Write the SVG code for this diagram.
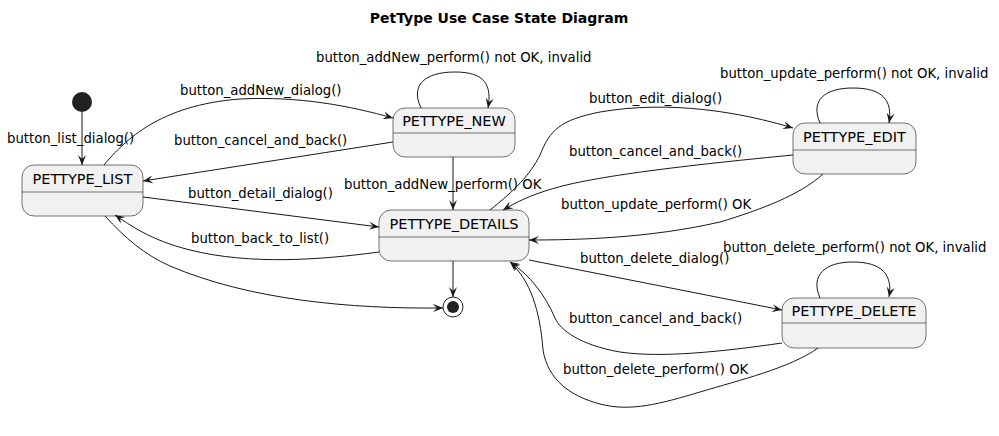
<svg xmlns="http://www.w3.org/2000/svg" width="999" height="436" viewBox="0 0 999 436">
<style>
.node rect{fill:#F1F1F1;stroke:#181818;stroke-width:0.6}
.node line{stroke:#181818;stroke-width:0.6}
.name{font-family:"DejaVu Sans",sans-serif;font-size:14.5px;fill:#000;text-anchor:middle}
.lbl{font-family:"DejaVu Sans",sans-serif;font-size:13.25px;fill:#000}
.title{font-family:"DejaVu Sans",sans-serif;font-size:14px;font-weight:bold;fill:#000;text-anchor:middle}
#edges path{fill:none;stroke:#181818;stroke-width:1;marker-end:url(#arr)}
</style>
<defs>
<marker id="arr" viewBox="0 0 10 8" refX="10" refY="4" markerWidth="10" markerHeight="8" markerUnits="userSpaceOnUse" orient="auto">
<path d="M0,0 L10,4 L0,8 L4,4 Z" fill="#181818"/>
</marker>
</defs>
<rect width="999" height="436" fill="#fff"/>
<text class="title" x="499" y="23">PetType Use Case State Diagram</text>

<g id="start"><circle cx="82" cy="102" r="10" fill="#222"/></g>
<g id="end"><circle cx="453" cy="307" r="10" fill="#fff" stroke="#222" stroke-width="1"/><circle cx="453" cy="307" r="6" fill="#222"/></g>

<g id="PETTYPE_LIST" class="node"><rect x="22" y="165" width="121" height="51" rx="12"/><line x1="22" y1="192" x2="143" y2="192"/><text class="name" x="82.5" y="184">PETTYPE_LIST</text></g>
<g id="PETTYPE_NEW" class="node"><rect x="393" y="108" width="122" height="49" rx="12"/><line x1="393" y1="133" x2="515" y2="133"/><text class="name" x="454" y="126">PETTYPE_NEW</text></g>
<g id="PETTYPE_DETAILS" class="node"><rect x="379" y="210" width="150" height="51" rx="12"/><line x1="379" y1="237" x2="529" y2="237"/><text class="name" x="454" y="229">PETTYPE_DETAILS</text></g>
<g id="PETTYPE_EDIT" class="node"><rect x="793" y="123" width="123" height="51" rx="12"/><line x1="793" y1="150" x2="916" y2="150"/><text class="name" x="854.5" y="142">PETTYPE_EDIT</text></g>
<g id="PETTYPE_DELETE" class="node"><rect x="782" y="298" width="144" height="50" rx="12"/><line x1="782" y1="323" x2="926" y2="323"/><text class="name" x="854" y="316">PETTYPE_DELETE</text></g>

<g id="edges">
<path d="M82,112 L82,165"/>
<path d="M104,165 C125,140 160,105 240,99 C300,96 350,106 393,118"/>
<path d="M393,142 L143,181"/>
<path d="M143,197 L379,227"/>
<path d="M379,252 C320,260 250,265 190,250 C150,240 130,225 115,215"/>
<path d="M105,216 C125,238 145,255 170,266 C250,300 350,309 443,308"/>
<path d="M453,157 L453,210"/>
<path d="M421,108 C410,85 425,72 455,72 C485,72 492,85 488,108"/>
<path d="M490,210 C515,190 530,175 540,155 C550,130 560,120 600,112 C670,100 740,112 793,128"/>
<path d="M793,155 C700,164 600,175 555,188 C530,195 515,203 503,210"/>
<path d="M823,174 C800,195 760,210 720,222 C650,238 580,240 529,240"/>
<path d="M820,123 C810,100 825,88 853,88 C882,88 893,100 889,123"/>
<path d="M529,260 L782,310"/>
<path d="M782,343 C720,352 660,358 620,352 C580,345 560,330 555,318 C545,295 530,275 510,262"/>
<path d="M818,348 C790,368 740,380 700,392 C660,404 630,412 600,404 C570,396 548,380 543,350 C540,310 530,280 510,262"/>
<path d="M820,298 C810,275 825,262 853,262 C882,262 893,275 889,297"/>
<path d="M453,261 L453,297"/>
</g>

<g id="labels">
<text class="lbl" x="7" y="143">button_list_dialog()</text>
<text class="lbl" x="180" y="95">button_addNew_dialog()</text>
<text class="lbl" x="174" y="145">button_cancel_and_back()</text>
<text class="lbl" x="188" y="198">button_detail_dialog()</text>
<text class="lbl" x="191" y="243">button_back_to_list()</text>
<text class="lbl" x="344" y="189">button_addNew_perform() OK</text>
<text class="lbl" x="316" y="62">button_addNew_perform() not OK, invalid</text>
<text class="lbl" x="589" y="103">button_edit_dialog()</text>
<text class="lbl" x="569" y="156">button_cancel_and_back()</text>
<text class="lbl" x="561" y="209">button_update_perform() OK</text>
<text class="lbl" x="720" y="78">button_update_perform() not OK, invalid</text>
<text class="lbl" x="580" y="263">button_delete_dialog()</text>
<text class="lbl" x="723" y="252">button_delete_perform() not OK, invalid</text>
<text class="lbl" x="569" y="323">button_cancel_and_back()</text>
<text class="lbl" x="563" y="374">button_delete_perform() OK</text>
</g>
</svg>
